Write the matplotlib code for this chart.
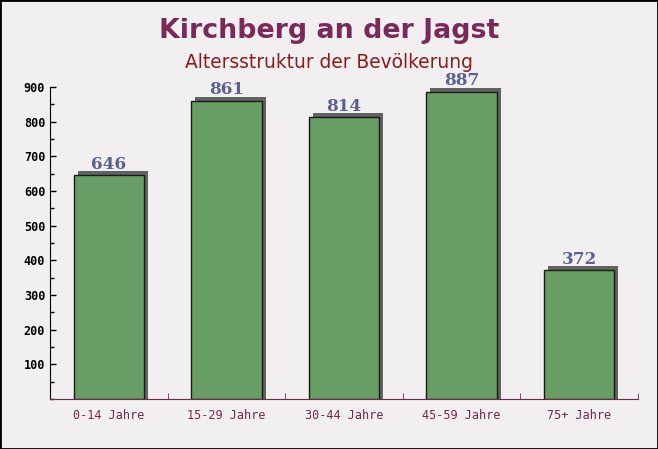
import matplotlib
matplotlib.use("Agg")
import matplotlib.pyplot as plt
from matplotlib.patches import Rectangle
from matplotlib.ticker import MultipleLocator, FixedLocator

categories = ["0-14 Jahre", "15-29 Jahre", "30-44 Jahre", "45-59 Jahre", "75+ Jahre"]
values = [646, 861, 814, 887, 372]
yticks = [100, 200, 300, 400, 500, 600, 700, 800, 900]

W, H = 658, 449
fig = plt.figure(figsize=(W / 100, H / 100), dpi=100)
fig.patch.set_facecolor("#f2eff1")
# border
fig.add_artist(Rectangle((0, 0), 1, 1, transform=fig.transFigure, fill=False,
                         edgecolor="black", linewidth=2))

ax = fig.add_axes([50 / W, (H - 399) / H, 588 / W, 312 / H])
ax.set_facecolor("none")
x = list(range(len(categories)))
bw = 0.6
# shadow
dx = 4 * (len(categories)) / 588
dy = 4 * 900 / 312
for xi, v in zip(x, values):
    ax.bar(xi + dx, v + dy, width=bw, color="#626262", zorder=1)
ax.bar(x, values, width=bw, color="#689e63", edgecolor="#1a1a1a",
       linewidth=1.0, zorder=2)
for xi, v in zip(x, values):
    ax.text(xi, v + 6, str(v), ha="center", va="bottom",
            fontfamily="DejaVu Serif", fontweight="bold", fontsize=12.2,
            color="#5a6090", zorder=3)

ax.set_xlim(-0.5, len(categories) - 0.5)
ax.set_ylim(0, 900)
ax.yaxis.set_major_locator(FixedLocator(yticks))
ax.yaxis.set_minor_locator(MultipleLocator(50))
ax.tick_params(axis="y", which="both", direction="in", length=4, width=1,
               colors="black", labelsize=8.5)
ax.tick_params(axis="y", which="minor", length=3)
for lab in ax.get_yticklabels():
    lab.set_fontfamily("DejaVu Sans Mono")
    lab.set_fontweight("bold")
ax.set_xticks(x)
ax.set_xticklabels(categories, fontfamily="DejaVu Sans Mono", fontsize=8.5,
                   color="#6e2a4a")
ax.tick_params(axis="x", which="major", length=0, pad=7)
ax.xaxis.set_minor_locator(FixedLocator([i + 0.5 for i in x]))
ax.tick_params(axis="x", which="minor", direction="in", length=4,
               color="#6e2a4a")
for s in ["top", "right"]:
    ax.spines[s].set_visible(False)
ax.spines["left"].set_color("black")
ax.spines["bottom"].set_color("#6e2a4a")

fig.text(0.5, 1 - 31 / H, "Kirchberg an der Jagst", ha="center", va="center",
         fontsize=19.4, fontweight="bold", color="#7a2a58", fontfamily="DejaVu Sans")
fig.text(0.5, 1 - 63 / H, "Altersstruktur der Bevölkerung", ha="center",
         va="center", fontsize=13.4, color="#8b1a1a", fontfamily="DejaVu Sans")

fig.savefig("out.png", dpi=100, facecolor=fig.get_facecolor())
